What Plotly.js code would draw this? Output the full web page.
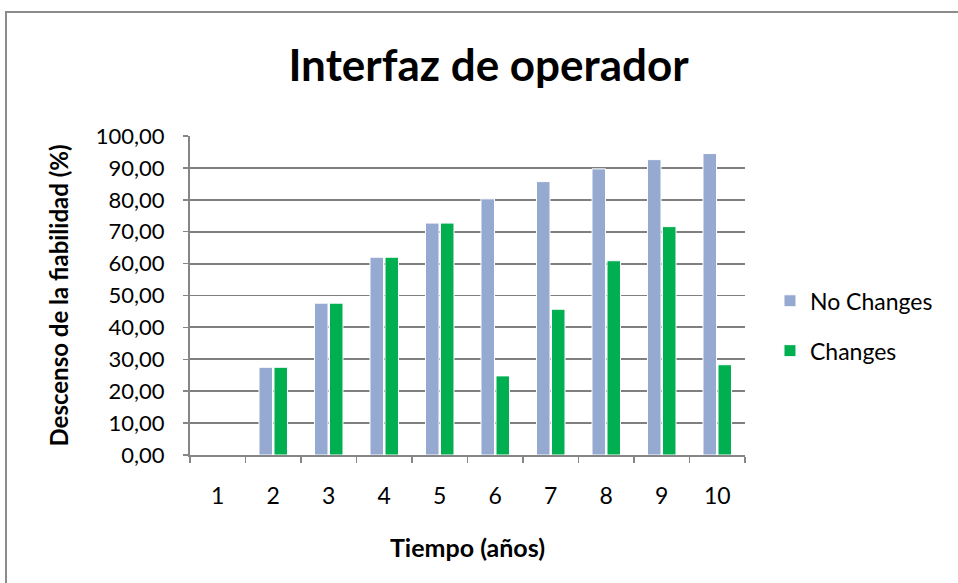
<!DOCTYPE html>
<html>
<head>
<meta charset="utf-8">
<script src="https://cdn.plot.ly/plotly-3.0.1.min.js"></script>
<style>
html,body{margin:0;padding:0;background:#fff;}
#frame{position:absolute;left:5px;top:11px;width:1000px;height:700px;border:2px solid #8c8c8c;box-sizing:border-box;}
#chart{position:absolute;left:0;top:0;width:958px;height:583px;}
</style>
</head>
<body>
<div id="frame"></div>
<div id="chart"></div>
<script>
const years = ['1','2','3','4','5','6','7','8','9','10'];
const noChanges = [0, 27.5, 47.6, 62.0, 72.7, 80.3, 85.7, 89.7, 92.6, 94.5];
const changes   = [0, 27.5, 47.6, 62.0, 72.7, 24.8, 45.7, 60.9, 71.6, 28.3];
const yTicks = [0,10,20,30,40,50,60,70,80,90,100];

const font = 'Lato, "Open Sans", sans-serif';
const traces = [
  {type:'bar', name:'No Changes', x:years, y:noChanges, legendgroup:'a',
   marker:{color:'#95a9d1', line:{color:'#ffffff', width:1}}},
  {type:'bar', name:'Changes', x:years, y:changes, legendgroup:'b',
   marker:{color:'#00b050', line:{color:'#ffffff', width:1}}}
];
const layout = {
  width:958, height:583,
  paper_bgcolor:'rgba(0,0,0,0)', plot_bgcolor:'rgba(0,0,0,0)',
  margin:{l:190, r:213, t:136, b:128},
  font:{family:font, color:'#000', size:22},
  title:{text:'<b>Interfaz de operador</b>', font:{family:font, size:44, color:'#000'},
         x:0.51, xanchor:'center', y:0.888, yanchor:'middle'},
  barmode:'group', bargap:0.46, bargroupgap:0.1,
  separators:',.',
  showlegend:true,
  legend:{x:1.045, xanchor:'left', y:0.405, yanchor:'middle', font:{family:font, size:23},
          tracegroupgap:17, bgcolor:'rgba(0,0,0,0)', traceorder:'grouped', itemwidth:30},
  xaxis:{type:'category', tickson:'boundaries', ticks:'outside', ticklen:6, tickcolor:'#868686', tickwidth:1.5,
         showline:true, linecolor:'#868686', linewidth:2, showgrid:false,
         ticklabelstandoff:19, tickfont:{family:font, size:23},
         title:{text:'<b>Tiempo (años)</b>', font:{family:font, size:25}, standoff:32}},
  yaxis:{range:[0,100], tickvals:yTicks, tickformat:'.2f', ticks:'outside', ticklen:5, tickcolor:'#868686', tickwidth:1.5,
         showline:true, linecolor:'#868686', linewidth:2, showgrid:true, gridcolor:'#7f7f7f', gridwidth:1.8,
         zeroline:false, ticklabelstandoff:14, tickfont:{family:font, size:22},
         title:{text:'<b>Descenso de la fiabilidad (%)</b>', font:{family:font, size:24}, standoff:20}}
};
Plotly.newPlot('chart', traces, layout, {displayModeBar:false, staticPlot:true});
</script>
</body>
</html>
